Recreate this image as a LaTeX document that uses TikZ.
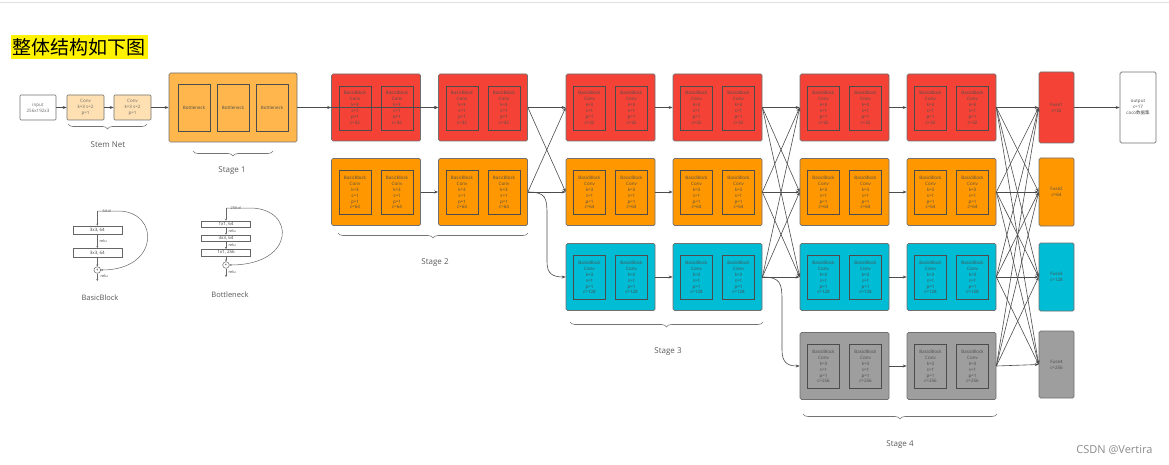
\documentclass[tikz,border=0pt]{standalone}
\usepackage{fontspec}
\setmainfont{Open Sans}
\newfontfamily\cjk{Noto Sans CJK SC}
\usepackage{xcolor}
\usetikzlibrary{positioning,calc,arrows.meta,decorations.pathreplacing}

\definecolor{hrred}{HTML}{F44336}
\definecolor{hrorange}{HTML}{FF9800}
\definecolor{hrcyan}{HTML}{00BCD4}
\definecolor{hrgray}{HTML}{9E9E9E}
\definecolor{stageone}{HTML}{FFB74D}
\definecolor{stemfill}{HTML}{FFE0B2}
\definecolor{edgegray}{HTML}{707070}

\tikzset{
  stagebox/.style={draw=edgegray, line width=0.7pt, rounded corners=1.5pt, minimum width=89pt, minimum height=67pt, inner sep=0pt},
  blockbox/.style={draw=black!70, line width=0.8pt, minimum width=32pt, minimum height=44pt, inner sep=0pt, align=center, font=\fontsize{4.5}{5.9}\selectfont, text=black!70},
  smallbox/.style={draw=edgegray, line width=0.6pt, rounded corners=1pt, minimum width=37pt, minimum height=25pt, inner sep=0pt, align=center, font=\fontsize{4.5}{5.9}\selectfont, text=black!60},
  fusebox/.style={draw=edgegray, line width=0.7pt, rounded corners=1.5pt, minimum width=35pt, inner sep=0pt, align=center, font=\fontsize{4.5}{5.9}\selectfont, text=black!70},
  link/.style={draw=black!70, line width=0.6pt, -{Stealth[length=4pt,width=3pt]}},
  stagebrace/.style={draw=black!55, line width=0.6pt, decorate, decoration={brace,mirror,amplitude=5pt}},
  stagelabel/.style={font=\fontsize{8}{10}\selectfont, text=black!65},
  resbox/.style={draw=black!60, line width=0.5pt, minimum width=49pt, inner sep=0pt, font=\fontsize{4.5}{5.5}\selectfont, text=black!75},
  tinylabel/.style={font=\fontsize{3.8}{4.5}\selectfont, text=black!75, inner sep=0.5pt},
  resline/.style={draw=black!60, line width=0.5pt, -{Stealth[length=2pt,width=2pt]}}
}

\begin{document}
\begin{tikzpicture}[x=1pt, y=-1pt]
    \useasboundingbox (0,0) rectangle (1169,465);
    \draw [black!12, line width=0.8pt] (0,2) -- (1169,2);

    % Title
    \node [fill=yellow, inner sep=2pt, minimum height=24pt, font=\cjk\fontsize{19}{22}\selectfont] (title) at (79,47) {整体结构如下图};

    % Stem Net
    \node [smallbox, fill=white, minimum width=36pt] (input) at (38,107.5) {input\\256x192x3};
    \node [smallbox, fill=stemfill] (conv1) at (85.5,107.5) {Conv\\k=3 s=2\\p=1};
    \node [smallbox, fill=stemfill] (conv2) at (132.5,107.5) {Conv\\k=3 s=2\\p=1};
    \draw [link] (input) -- (conv1);
    \draw [link] (conv1) -- (conv2);
    \draw [stagebrace] (68,124) -- (147,124);
    \node [stagelabel] (stemlabel) at (108,145) {Stem Net};

    % Stage 1
    \node [stagebox, fill=stageone, minimum width=128pt, minimum height=69pt] (s1) at (233,107.5) {};
    \foreach \k/\x in {1/194, 2/233, 3/272}
        \node [blockbox, minimum height=47pt] (s1b\k) at (\x,107.5) {Bottleneck};
    \draw [link] (conv2) -- (s1);
    \draw [stagebrace] (193,151) -- (273,151);
    \node [stagelabel] (s1label) at (232,171) {Stage 1};

    % Stages 2-4: rows of two boxes
    \foreach \s/\xa/\xb/\n in {2/376/483/2, 3/610.5/717.5/3, 4/844.5/951.5/4} {
        \foreach \r/\y/\c/\ch in {1/107.5/hrred/32, 2/192/hrorange/64, 3/277/hrcyan/128, 4/366/hrgray/256} {
            \ifnum\r>\n\else
                \foreach \k/\x in {1/\xa, 2/\xb} {
                    \node [stagebox, fill=\c] (b\s\k\r) at (\x,\y) {};
                    \node [blockbox] (b\s\k\r l) at ($(b\s\k\r.center)+(-21,0.5)$) {BasicBlock\\Conv\\k=3\\s=1\\p=1\\c=\ch};
                    \node [blockbox] (b\s\k\r r) at ($(b\s\k\r.center)+(21,0.5)$) {BasicBlock\\Conv\\k=3\\s=1\\p=1\\c=\ch};
                }
                \draw [link] (b\s1\r) -- (b\s2\r);
            \fi
        }
    }

    % Stage 1 -> Stage 2
    \coordinate (split) at (315,107.5);
    \draw [link] (s1) -- (b211);
    \draw [link] (split) |- (b221.west);

    % Stage 2 -> Stage 3
    \foreach \i in {1,2}
        \foreach \j in {1,2}
            \draw [link] (b22\i.east) -- (b31\j.west);
    \draw [link] (b222.east) .. controls (546,192) and (547,198) .. (547,215)
        -- (547,262) .. controls (547,274) and (553,277) .. (b313.west);

    % Stage 3 -> Stage 4
    \foreach \i in {1,2,3}
        \foreach \j in {1,2,3}
            \draw [link] (b32\i.east) -- (b41\j.west);
    \draw [link] (b323.east) .. controls (780,277) and (782,283) .. (782,300)
        -- (782,350) .. controls (782,363) and (788,366) .. (b414.west);

    % Fuse layer
    \node [fusebox, fill=hrred, minimum height=71pt] (f1) at (1056.5,107.5) {Fuse1\\c=32};
    \node [fusebox, fill=hrorange, minimum height=68pt] (f2) at (1056.5,192) {Fuse2\\c=64};
    \node [fusebox, fill=hrcyan, minimum height=68pt] (f3) at (1056.5,277) {Fuse3\\c=128};
    \node [fusebox, fill=hrgray, minimum height=67pt] (f4) at (1056.5,364.5) {Fuse4\\c=256};
    \foreach \i in {1,2,3,4}
        \foreach \j in {1,2,3,4}
            \draw [link] (b42\i.east) -- (f\j.west);

    % Output
    \node [fusebox, fill=white, minimum width=36pt, minimum height=71pt] (output) at (1138,107.5) {output\\c=17\\{\cjk coco数据集}};
    \draw [link] (f1) -- (output);

    % Braces
    \draw [stagebrace] (338,233) -- (528,233);
    \node [stagelabel] (s2label) at (435,263) {Stage 2};
    \draw [stagebrace] (570,322) -- (763,322);
    \node [stagelabel] (s3label) at (668,352) {Stage 3};
    \draw [stagebrace] (803,414) -- (997,414);
    \node [stagelabel] (s4label) at (900,445) {Stage 4};

    % BasicBlock sketch
    \node [resbox, minimum height=8.5pt] (bb1) at (97.3,230.2) {3x3, 64};
    \node [resbox, minimum height=9pt] (bb2) at (97.3,252.8) {3x3, 64};
    \node [draw=black!60, line width=0.5pt, circle, inner sep=0pt, minimum size=6.6pt, font=\fontsize{4}{4}\selectfont] (bbsum) at (97.3,270) {+};
    \coordinate (bbin) at (97.3,211);
    \coordinate (bbout) at (97.3,281);
    \node [tinylabel, anchor=west] (bbd) at (102,211) {64-d};
    \node [tinylabel, anchor=west] (bbr1) at (99,241.5) {relu};
    \node [tinylabel, anchor=west] (bbr2) at (100,276.5) {relu};
    \draw [resline] (bbin) -- (bb1);
    \draw [resline] (bb1) -- (bb2);
    \draw [resline] (bb2) -- (bbsum);
    \draw [resline] (bbsum) -- (bbout);
    \draw [resline] (bbin) -- (118,211) .. controls (160,211) and (160,270) .. (bbsum.east);
    \node [stagelabel, font=\fontsize{7.5}{9}\selectfont] (bblabel) at (100,298) {BasicBlock};

    % Bottleneck sketch
    \node [resbox, minimum height=6.5pt] (bn1) at (226,224.2) {1x1, 64};
    \node [resbox, minimum height=6.5pt] (bn2) at (226,238.2) {3x3, 64};
    \node [resbox, minimum height=6.5pt] (bn3) at (226,252.5) {1x1, 256};
    \node [draw=black!60, line width=0.5pt, circle, inner sep=0pt, minimum size=6.6pt, font=\fontsize{4}{4}\selectfont] (bnsum) at (226,265) {+};
    \coordinate (bnin) at (226,208);
    \coordinate (bnout) at (226,277);
    \node [tinylabel, anchor=west] (bnd) at (230,208) {256-d};
    \node [tinylabel, anchor=west] (bnr1) at (228,231) {relu};
    \node [tinylabel, anchor=west] (bnr2) at (228,245.5) {relu};
    \node [tinylabel, anchor=west] (bnr3) at (228,272) {relu};
    \draw [resline] (bnin) -- (bn1);
    \draw [resline] (bn1) -- (bn2);
    \draw [resline] (bn2) -- (bn3);
    \draw [resline] (bn3) -- (bnsum);
    \draw [resline] (bnsum) -- (bnout);
    \draw [resline] (bnin) -- (250,208) .. controls (296,208) and (296,265) .. (bnsum.east);
    \node [stagelabel, font=\fontsize{7.5}{9}\selectfont] (bnlabel) at (230,295) {Bottleneck};

    % Watermark
    \node [text=black!45, font=\fontsize{11}{12}\selectfont, anchor=east] (mark) at (1156,450) {CSDN @Vertira};
\end{tikzpicture}
\end{document}
